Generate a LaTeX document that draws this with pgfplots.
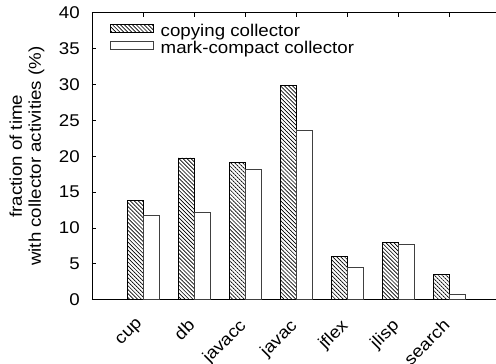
\documentclass[border=0pt]{standalone}
\usepackage{pgfplots}
\pgfplotsset{compat=1.18}
\usepackage{fontspec}
\setmainfont{Liberation Sans}[FakeStretch=1.1]
\usetikzlibrary{patterns.meta}
\begin{document}
\fontsize{12.75pt}{14.25pt}\selectfont
\begin{tikzpicture}
\begin{axis}[
  name=ax,
  scale only axis, width=303pt, height=215.25pt,
  xmin=0, xmax=7.92, ymin=0, ymax=40,
  axis x line*=box, axis y line*=left,
  axis line style={line width=0.7pt},
  /pgf/number format/assume math mode=true,
  ybar=0pt, bar width=12pt,
  xtick={1,...,7},
  xticklabels={cup,db,javacc,javac,jflex,jlisp,search},
  xtick pos=right, xticklabel pos=left,
  ytick={0,5,...,40}, ytick pos=left,
  tick align=inside, major tick length=3pt,
  tick style={line width=0.6pt, black},
  xticklabel style={rotate=45, anchor=north east, inner sep=0pt, xshift=-4.6pt, yshift=2.83pt},
  xticklabel shift=12pt,
  yticklabel style={inner sep=0pt, xshift=-9pt},
  ylabel={fraction of time\\with collector activities (\%)},
  every axis y label/.style={at={(rel axis cs:0,0.5)}, rotate=90, anchor=center,
    align=center, yshift=48.75pt},
  legend cell align=left,
  legend style={draw=none, fill=none, at={(0.0446,0.962)}, anchor=north west,
    row sep=0pt, column sep=5.25pt, inner sep=0pt,
    nodes={inner sep=0pt, text height=9pt, text depth=3.75pt}},
  legend image code/.code={\draw[#1] (0pt,0pt) rectangle (32pt,6.2pt);},
]
\addplot[draw=black, line width=0.6pt, pattern={Lines[angle=-45,distance=2.1pt,line width=0.5pt]}]
  coordinates {(1,13.8) (2,19.75) (3,19.1) (4,29.8) (5,6.0) (6,7.95) (7,3.5)};
\addplot[draw=black!75, line width=0.6pt, fill=white]
  coordinates {(1,11.75) (2,12.1) (3,18.2) (4,23.65) (5,4.5) (6,7.75) (7,0.75)};
\legend{copying collector, mark-compact collector}
\end{axis}
\pgfresetboundingbox
\useasboundingbox (ax.south west) ++(-69pt,-48pt) rectangle ++(372pt,272.75pt);
\end{tikzpicture}
\end{document}
